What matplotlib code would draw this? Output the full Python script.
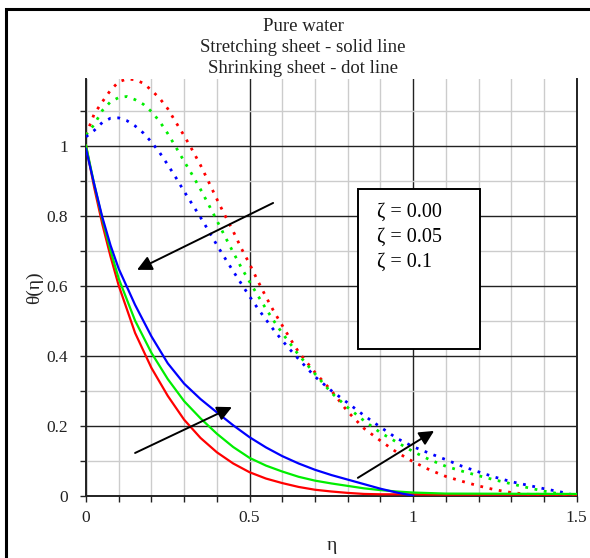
import matplotlib
matplotlib.use("Agg")
import matplotlib.pyplot as plt
from matplotlib.patches import Rectangle
import numpy as np

plt.rcParams['font.family'] = ['Liberation Serif', 'DejaVu Serif']

# stretching sheet (solid lines)
eta_red = [0, 0.025, 0.05, 0.075, 0.10, 0.15, 0.20, 0.25, 0.30, 0.35, 0.40, 0.45, 0.50, 0.55,
           0.60, 0.65, 0.70, 0.75, 0.80, 0.85, 0.90, 1.00, 1.10, 1.50]
th_red = [1.0, 0.88, 0.775, 0.683, 0.600, 0.465, 0.365, 0.285, 0.217, 0.165, 0.124, 0.092,
          0.067, 0.049, 0.036, 0.025, 0.017, 0.012, 0.008, 0.005, 0.004, 0.004, 0.003, 0.003]
eta_green = [0, 0.025, 0.05, 0.075, 0.10, 0.15, 0.20, 0.25, 0.30, 0.35, 0.40, 0.45, 0.50, 0.55,
             0.60, 0.65, 0.70, 0.75, 0.80, 0.85, 0.90, 0.95, 1.00, 1.10, 1.50]
th_green = [1.0, 0.89, 0.79, 0.70, 0.62, 0.500, 0.408, 0.333, 0.270, 0.221, 0.177, 0.139,
            0.108, 0.086, 0.069, 0.054, 0.043, 0.035, 0.028, 0.021, 0.016, 0.012, 0.009, 0.006, 0.005]
eta_blue = [0, 0.025, 0.05, 0.075, 0.10, 0.15, 0.20, 0.25, 0.30, 0.35, 0.40, 0.45, 0.50, 0.55,
            0.60, 0.65, 0.70, 0.75, 0.80, 0.85, 0.90, 0.95, 1.00]
th_blue = [0.99, 0.89, 0.795, 0.715, 0.648, 0.545, 0.455, 0.378, 0.320, 0.276, 0.238, 0.201,
           0.167, 0.138, 0.113, 0.092, 0.074, 0.059, 0.046, 0.033, 0.020, 0.009, 0.0]

# shrinking sheet (dot lines)
eta_d = [0, 0.025, 0.05, 0.075, 0.10, 0.125, 0.15, 0.175, 0.20, 0.225, 0.25, 0.275,
         0.30, 0.325, 0.35, 0.375, 0.40, 0.425, 0.45, 0.475, 0.50, 0.525, 0.55, 0.575,
         0.60, 0.625, 0.65, 0.70, 0.75, 0.80, 0.85, 0.90, 0.95, 1.00, 1.05, 1.10,
         1.15, 1.20, 1.25, 1.30, 1.35, 1.40, 1.45, 1.50]
th_red_d = [1.03, 1.09, 1.125, 1.158, 1.182, 1.19, 1.188, 1.178, 1.158, 1.135, 1.105, 1.066,
            1.028, 0.987, 0.944, 0.896, 0.847, 0.80, 0.755, 0.706, 0.662, 0.614, 0.568, 0.525,
            0.486, 0.447, 0.410, 0.352, 0.300, 0.240, 0.192, 0.157, 0.124, 0.097, 0.074, 0.055,
            0.041, 0.028, 0.017, 0.009, 0.004, 0.004, 0.004, 0.0]
th_green_d = [1.03, 1.06, 1.10, 1.125, 1.137, 1.14, 1.131, 1.118, 1.097, 1.069, 1.034, 0.995,
              0.955, 0.916, 0.875, 0.831, 0.786, 0.740, 0.695, 0.651, 0.611, 0.572, 0.534, 0.498,
              0.464, 0.433, 0.402, 0.348, 0.294, 0.252, 0.214, 0.180, 0.153, 0.126, 0.103, 0.084,
              0.070, 0.057, 0.045, 0.034, 0.023, 0.013, 0.005, 0.0]
th_blue_d = [1.025, 1.043, 1.066, 1.078, 1.079, 1.071, 1.056, 1.036, 1.010, 0.980, 0.945, 0.908,
             0.869, 0.832, 0.795, 0.756, 0.716, 0.678, 0.641, 0.605, 0.569, 0.535, 0.503, 0.472,
             0.443, 0.416, 0.390, 0.340, 0.300, 0.265, 0.229, 0.196, 0.164, 0.140, 0.121, 0.103,
             0.084, 0.068, 0.053, 0.040, 0.030, 0.020, 0.011, 0.0]

title_lines = ["Pure water", "Stretching sheet - solid line", "Shrinking sheet - dot line"]
legend_lines = ["ζ = 0.00", "ζ = 0.05", "ζ = 0.1"]

RED, GREEN, BLUE = '#ff0000', '#00ee00', '#0000ff'

fig = plt.figure(figsize=(5.9, 5.58), dpi=100)
ax = fig.add_axes([86/590, 1 - 495.7/558, (576.7 - 86)/590, (495.7 - 79)/558])

dot = (0, (1, 2.4))
ax.plot(eta_d, th_red_d, color=RED, lw=2.0, ls=dot, zorder=3)
ax.plot(eta_d, th_green_d, color=GREEN, lw=2.0, ls=dot, zorder=3)
ax.plot(eta_d, th_blue_d, color=BLUE, lw=2.0, ls=dot, zorder=3)
ax.plot(eta_red, th_red, color=RED, lw=1.6, zorder=4)
ax.plot(eta_green, th_green, color=GREEN, lw=1.6, zorder=4)
ax.plot(eta_blue, th_blue, color=BLUE, lw=1.6, zorder=4)

ax.set_xlim(0, 1.5)
ax.set_ylim(0, 1.19)
ax.set_xticks([0, 0.5, 1, 1.5])
ax.set_xticklabels(["0", "0.5", "1", "1.5"])
ax.set_xticks(np.arange(0.1, 1.5, 0.1), minor=True)
ax.set_yticks([0, 0.2, 0.4, 0.6, 0.8, 1.0])
ax.set_yticklabels(["0", "0.2", "0.4", "0.6", "0.8", "1"])
ax.set_yticks(np.arange(0.1, 1.15, 0.1), minor=True)
ax.grid(which='minor', color='#cccccc', lw=1.0, zorder=0)
ax.grid(which='major', color='#222222', lw=1.0, zorder=1)
ax.set_axisbelow(True)
ax.tick_params(which='both', direction='out', length=4, width=1, color='#222222',
               labelsize=12.5, labelcolor='#222222')
ax.tick_params(axis='y', pad=9)
ax.tick_params(axis='x', pad=6)
for s in ['left', 'bottom', 'right']:
    ax.spines[s].set_linewidth(1.4)
    ax.spines[s].set_color('#222222')
ax.spines['top'].set_visible(False)

ax.set_xlabel("η", fontsize=14, labelpad=8, color='#222222')
ax.set_ylabel("θ(η)", fontsize=14, color='#222222')
ax.yaxis.set_label_coords(-0.088, 0.5)

# legend box
ax.add_patch(Rectangle((0.830, 0.419), 0.374, 0.457, facecolor='white',
                       edgecolor='black', lw=1.4, zorder=5))
for i, t in enumerate(legend_lines):
    ax.text(0.890, 0.808 - i * 0.071, t, fontsize=14.5, va='center', ha='left', zorder=6)

# arrows
arr = dict(arrowstyle='-|>', color='black', lw=1.4, mutation_scale=22, shrinkA=0, shrinkB=0)
ax.annotate('', xy=(0.156, 0.645), xytext=(0.572, 0.836), arrowprops=arr, zorder=6)
ax.annotate('', xy=(0.446, 0.253), xytext=(0.150, 0.122), arrowprops=arr, zorder=6)
ax.annotate('', xy=(1.064, 0.185), xytext=(0.831, 0.051), arrowprops=arr, zorder=6)

for i, t in enumerate(title_lines):
    fig.text(303/590, 1 - (26.7 + 20.8 * i)/558, t, fontsize=13.5, ha='center', va='center',
             color='#222222')

# outer frame
fig.add_artist(Rectangle((6/590, -0.1), 1.2, 1.1 - 9/558, transform=fig.transFigure,
                         fill=False, edgecolor='black', lw=2.2))

fig.savefig("out.png", dpi=100)
